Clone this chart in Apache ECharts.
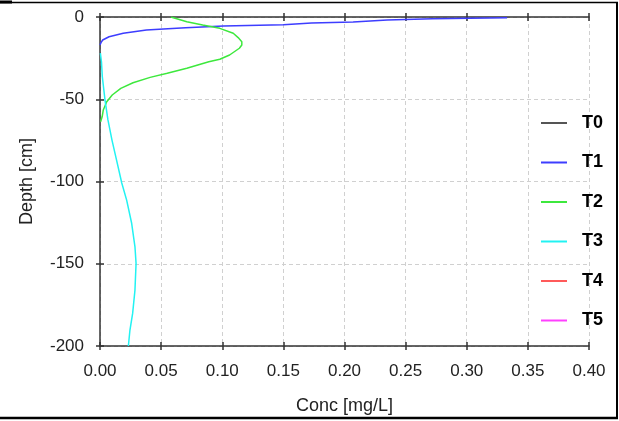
<!DOCTYPE html>
<html>
<head>
<meta charset="utf-8">
<style>
html,body{margin:0;padding:0;background:#fff;}
#chart{width:619px;height:421px;}
</style>
<script src="https://cdn.jsdelivr.net/npm/echarts@6/dist/echarts.min.js"></script>
</head>
<body>
<div id="chart"></div>
<script>
// ---- data ----
const seriesNames = ['T0', 'T1', 'T2', 'T3', 'T4', 'T5'];
const xTicks = [0, 0.05, 0.10, 0.15, 0.20, 0.25, 0.30, 0.35, 0.40];
const yTicks = [0, -50, -100, -150, -200];

const T0_depth = [];
const T0_conc = [];

const T1_depth = [-0.5, -1.0, -1.8, -3.0, -3.6, -4.7, -5.5, -6.5, -7.3, -7.9, -9.9, -12.0, -14.0, -15.6, -17.0];
const T1_conc = [0.333, 0.272, 0.235, 0.207, 0.173, 0.150, 0.101, 0.070, 0.052, 0.038, 0.019, 0.0074, 0.0022, 0.0008, 0.0];

const T2_depth = [0, -2.9, -4.9, -6.9, -9.9, -12.5, -15.0, -17.0, -19.0, -23.1, -25.7, -27.2, -29.2, -31.2, -34.2, -36.7, -40.0, -43.4, -47.4, -51.5, -56.5, -60.5, -63.7];
const T2_conc = [0.058, 0.071, 0.084, 0.098, 0.109, 0.113, 0.116, 0.116, 0.114, 0.106, 0.098, 0.089, 0.080, 0.071, 0.055, 0.041, 0.027, 0.017, 0.010, 0.0055, 0.0027, 0.0018, 0.0005];

const T3_depth = [-22, -27.2, -36.3, -50.5, -62.6, -74.8, -86.9, -100.9, -111.3, -125.4, -139.7, -149.8, -166, -180.2, -190.3, -200];
const T3_conc = [0.0003, 0.0012, 0.0019, 0.0041, 0.0065, 0.0098, 0.0135, 0.0178, 0.0218, 0.0259, 0.0286, 0.0295, 0.0286, 0.0267, 0.0245, 0.0232];

const T4_depth = [];
const T4_conc = [];
const T5_depth = [];
const T5_conc = [];

const depths = [T0_depth, T1_depth, T2_depth, T3_depth, T4_depth, T5_depth];
const concs = [T0_conc, T1_conc, T2_conc, T3_conc, T4_conc, T5_conc];

// ---- styles ----
const colors = ['#555555', '#3d3dff', '#3de83d', '#22f2f2', '#ff5a5a', '#ff40ff'];
const FONT = 'Arial, "Liberation Sans", sans-serif';
const axisCol = '#333';

const chart = echarts.init(document.getElementById('chart'), null, {renderer: 'canvas'});

function xAx(pos, inside, showLine, showLabel, showSplit, name) {
  return {
    type: 'value', position: pos, min: xTicks[0], max: xTicks[xTicks.length - 1], interval: 0.05,
    name: name || '', nameLocation: 'middle', nameGap: 51,
    nameTextStyle: {fontFamily: FONT, fontSize: 18, color: '#222'},
    axisLine: {show: showLine, onZero: false, lineStyle: {color: axisCol, width: 1.5}},
    axisTick: {show: true, inside: inside, length: 4, lineStyle: {color: axisCol, width: 1.5}},
    axisLabel: {show: showLabel, margin: 17, fontFamily: FONT, fontSize: 17, color: '#222',
      formatter: v => v.toFixed(2)},
    splitLine: {show: showSplit, lineStyle: {color: '#d0d0d0', type: [4, 3], width: 1}}
  };
}
function yAx(pos, inside, showLine, showLabel, showSplit, name) {
  return {
    type: 'value', position: pos, min: yTicks[yTicks.length - 1], max: yTicks[0], interval: 50,
    name: name || '', nameLocation: 'middle', nameGap: 64,
    nameTextStyle: {fontFamily: FONT, fontSize: 18, color: '#222'},
    axisLine: {show: showLine, onZero: false, lineStyle: {color: axisCol, width: 1.5}},
    axisTick: {show: true, inside: inside, length: 4, lineStyle: {color: axisCol, width: 1.5}},
    axisLabel: {show: showLabel, margin: 16, fontFamily: FONT, fontSize: 17, color: '#222'},
    splitLine: {show: showSplit, lineStyle: {color: '#d0d0d0', type: [4, 3], width: 1}}
  };
}

const series = seriesNames.map((n, i) => ({
  name: n, type: 'line', xAxisIndex: 0, yAxisIndex: 0,
  showSymbol: false, symbol: 'none', smooth: false, clip: true,
  color: colors[i],
  itemStyle: {color: colors[i]},
  lineStyle: {color: colors[i], width: 1.5},
  data: depths[i].map((d, k) => [concs[i][k], d]),
  z: 3
}));

chart.setOption({
  animation: false,
  backgroundColor: '#fff',
  grid: {left: 100, top: 17, right: 30, bottom: 75, containLabel: false},
  xAxis: [
    xAx('bottom', false, true, true, true, 'Conc [mg/L]'),
    xAx('bottom', true, false, false, false),
    xAx('top', false, true, false, false),
    xAx('top', true, false, false, false)
  ],
  yAxis: [
    yAx('left', false, true, true, true, 'Depth [cm]'),
    yAx('left', true, false, false, false)
  ],
  legend: {
    orient: 'vertical', left: 541, top: 113, padding: 0,
    icon: 'rect', itemWidth: 26, itemHeight: 2, itemGap: 19.5,
    data: seriesNames,
    textStyle: {fontFamily: FONT, fontSize: 18, fontWeight: 'bold', color: '#000', lineHeight: 20, padding: [0, 0, 0, 10]}
  },
  series: series,
  graphic: [
    {type: 'line', shape: {x1: 0, y1: 2.5, x2: 618, y2: 2.5}, style: {stroke: '#000', lineWidth: 1.5}, z: 100},
    {type: 'line', shape: {x1: 0, y1: 2, x2: 12, y2: 2}, style: {stroke: '#000', lineWidth: 3}, z: 100},
    {type: 'line', shape: {x1: 617, y1: 2, x2: 617, y2: 419}, style: {stroke: '#000', lineWidth: 2}, z: 100},
    {type: 'line', shape: {x1: 0, y1: 418, x2: 618, y2: 418}, style: {stroke: '#000', lineWidth: 2.5}, z: 100}
  ]
});
</script>
</body>
</html>
